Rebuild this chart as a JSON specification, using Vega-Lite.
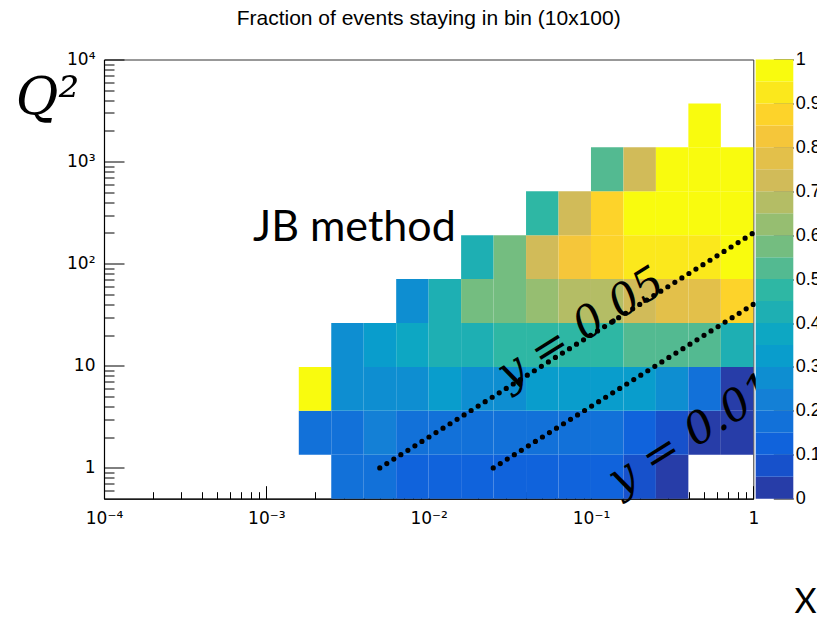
{
  "$schema": "https://vega.github.io/schema/vega-lite/v6.json",
  "autosize": {"type": "none"},
  "padding": {"left": 104, "top": 59.5, "right": 63.7, "bottom": 120.3},
  "width": 649.3,
  "height": 439.2,
  "title": {"text": "Fraction of events staying in bin (10x100)", "offset": 22},
  "view": {"stroke": "#333", "strokeWidth": 1},
  "config": {
    "font": "Liberation Sans",
    "axis": {"grid": false, "zindex": 1, "labelColor": "#000", "tickColor": "#000", "domainColor": "#000", "labelFont": "Liberation Sans", "labelFontSize": 18, "labelFlush": false, "labelOverlap": false, "labelBound": false},
    "title": {"font": "Liberation Sans", "fontSize": 21, "fontWeight": "normal", "color": "#000", "anchor": "middle"}
  },
  "datasets": {
    "xbins": [
      {"c": 0, "xlo": 0.0015849, "xhi": 0.0025119},
      {"c": 1, "xlo": 0.0025119, "xhi": 0.0039811},
      {"c": 2, "xlo": 0.0039811, "xhi": 0.0063096},
      {"c": 3, "xlo": 0.0063096, "xhi": 0.01},
      {"c": 4, "xlo": 0.01, "xhi": 0.015849},
      {"c": 5, "xlo": 0.015849, "xhi": 0.025119},
      {"c": 6, "xlo": 0.025119, "xhi": 0.039811},
      {"c": 7, "xlo": 0.039811, "xhi": 0.063096},
      {"c": 8, "xlo": 0.063096, "xhi": 0.1},
      {"c": 9, "xlo": 0.1, "xhi": 0.15849},
      {"c": 10, "xlo": 0.15849, "xhi": 0.25119},
      {"c": 11, "xlo": 0.25119, "xhi": 0.39811},
      {"c": 12, "xlo": 0.39811, "xhi": 0.63096},
      {"c": 13, "xlo": 0.63096, "xhi": 1}
    ],
    "qbins": [
      {"r": 0, "qlo": 0.5, "qhi": 1.3461},
      {"r": 1, "qlo": 1.3461, "qhi": 3.624},
      {"r": 2, "qlo": 3.624, "qhi": 9.757},
      {"r": 3, "qlo": 9.757, "qhi": 26.27},
      {"r": 4, "qlo": 26.27, "qhi": 70.71},
      {"r": 5, "qlo": 70.71, "qhi": 190.4},
      {"r": 6, "qlo": 190.4, "qhi": 512.6},
      {"r": 7, "qlo": 512.6, "qhi": 1380},
      {"r": 8, "qlo": 1380, "qhi": 3715},
      {"r": 9, "qlo": 3715, "qhi": 10000}
    ],
    "cells": [
      {"r": 0, "c": 1, "f": 0.175}, {"r": 0, "c": 2, "f": 0.175}, {"r": 0, "c": 3, "f": 0.125}, {"r": 0, "c": 4, "f": 0.125},
      {"r": 0, "c": 5, "f": 0.125}, {"r": 0, "c": 6, "f": 0.125}, {"r": 0, "c": 7, "f": 0.125}, {"r": 0, "c": 8, "f": 0.125},
      {"r": 0, "c": 9, "f": 0.125}, {"r": 0, "c": 10, "f": 0.075}, {"r": 0, "c": 11, "f": 0.025},
      {"r": 1, "c": 0, "f": 0.175}, {"r": 1, "c": 1, "f": 0.175}, {"r": 1, "c": 2, "f": 0.225}, {"r": 1, "c": 3, "f": 0.175},
      {"r": 1, "c": 4, "f": 0.175}, {"r": 1, "c": 5, "f": 0.175}, {"r": 1, "c": 6, "f": 0.175}, {"r": 1, "c": 7, "f": 0.175},
      {"r": 1, "c": 8, "f": 0.175}, {"r": 1, "c": 9, "f": 0.175}, {"r": 1, "c": 10, "f": 0.125}, {"r": 1, "c": 11, "f": 0.075},
      {"r": 1, "c": 12, "f": 0.025}, {"r": 1, "c": 13, "f": 0.025},
      {"r": 2, "c": 0, "f": 0.975}, {"r": 2, "c": 1, "f": 0.275}, {"r": 2, "c": 2, "f": 0.275}, {"r": 2, "c": 3, "f": 0.275},
      {"r": 2, "c": 4, "f": 0.325}, {"r": 2, "c": 5, "f": 0.275}, {"r": 2, "c": 6, "f": 0.275}, {"r": 2, "c": 7, "f": 0.325},
      {"r": 2, "c": 8, "f": 0.325}, {"r": 2, "c": 9, "f": 0.325}, {"r": 2, "c": 10, "f": 0.325}, {"r": 2, "c": 11, "f": 0.275},
      {"r": 2, "c": 12, "f": 0.175}, {"r": 2, "c": 13, "f": 0.025},
      {"r": 3, "c": 1, "f": 0.275}, {"r": 3, "c": 2, "f": 0.325}, {"r": 3, "c": 3, "f": 0.375}, {"r": 3, "c": 4, "f": 0.425},
      {"r": 3, "c": 5, "f": 0.425}, {"r": 3, "c": 6, "f": 0.475}, {"r": 3, "c": 7, "f": 0.475}, {"r": 3, "c": 8, "f": 0.475},
      {"r": 3, "c": 9, "f": 0.475}, {"r": 3, "c": 10, "f": 0.525}, {"r": 3, "c": 11, "f": 0.525}, {"r": 3, "c": 12, "f": 0.525},
      {"r": 3, "c": 13, "f": 0.425},
      {"r": 4, "c": 3, "f": 0.275}, {"r": 4, "c": 4, "f": 0.425}, {"r": 4, "c": 5, "f": 0.575}, {"r": 4, "c": 6, "f": 0.575},
      {"r": 4, "c": 7, "f": 0.625}, {"r": 4, "c": 8, "f": 0.675}, {"r": 4, "c": 9, "f": 0.675}, {"r": 4, "c": 10, "f": 0.725},
      {"r": 4, "c": 11, "f": 0.775}, {"r": 4, "c": 12, "f": 0.775}, {"r": 4, "c": 13, "f": 0.875},
      {"r": 5, "c": 5, "f": 0.425}, {"r": 5, "c": 6, "f": 0.575}, {"r": 5, "c": 7, "f": 0.725}, {"r": 5, "c": 8, "f": 0.825},
      {"r": 5, "c": 9, "f": 0.875}, {"r": 5, "c": 10, "f": 0.925}, {"r": 5, "c": 11, "f": 0.925}, {"r": 5, "c": 12, "f": 0.925},
      {"r": 5, "c": 13, "f": 0.975},
      {"r": 6, "c": 7, "f": 0.475}, {"r": 6, "c": 8, "f": 0.725}, {"r": 6, "c": 9, "f": 0.875}, {"r": 6, "c": 10, "f": 0.975},
      {"r": 6, "c": 11, "f": 0.975}, {"r": 6, "c": 12, "f": 0.975}, {"r": 6, "c": 13, "f": 0.975},
      {"r": 7, "c": 9, "f": 0.525}, {"r": 7, "c": 10, "f": 0.725}, {"r": 7, "c": 11, "f": 0.975}, {"r": 7, "c": 12, "f": 0.975},
      {"r": 7, "c": 13, "f": 0.975},
      {"r": 8, "c": 12, "f": 0.975}
    ],
    "lines": [
      {"series": "y=0.05", "x": 0.005, "q": 1},
      {"series": "y=0.05", "x": 1, "q": 200},
      {"series": "y=0.01", "x": 0.025, "q": 1},
      {"series": "y=0.01", "x": 1, "q": 40}
    ],
    "bandedges": [
      {"v": 0}, {"v": 0.1}, {"v": 0.2}, {"v": 0.3}, {"v": 0.4}, {"v": 0.5},
      {"v": 0.6}, {"v": 0.7}, {"v": 0.8}, {"v": 0.9}, {"v": 1}
    ]
  },
  "resolve": {"scale": {"y": "independent"}, "axis": {"x": "independent", "y": "independent"}},
  "layer": [
    {
      "data": {"name": "cells"},
      "transform": [
        {"lookup": "c", "from": {"data": {"name": "xbins"}, "key": "c", "fields": ["xlo", "xhi"]}},
        {"lookup": "r", "from": {"data": {"name": "qbins"}, "key": "r", "fields": ["qlo", "qhi"]}}
      ],
      "mark": {"type": "rect"},
      "encoding": {
        "x": {"field": "xlo", "type": "quantitative",
          "scale": {"type": "log", "domain": [0.0001, 1], "nice": false},
          "axis": {"orient": "bottom", "values": [0.0001, 0.001, 0.01, 0.1, 1],
            "labelExpr": "datum.value < 0.0005 ? '10⁻⁴' : datum.value < 0.005 ? '10⁻³' : datum.value < 0.05 ? '10⁻²' : datum.value < 0.5 ? '10⁻¹' : '1'",
            "labelFontSize": 17, "labelFont": "DejaVu Sans",
            "tickSize": -13, "labelPadding": 25, "domainWidth": 1.2,
            "title": "X", "titleX": 701, "titleY": 104, "titleFont": "Lato", "titleFontSize": 34, "titleFontWeight": "normal",
            "titleColor": "#000", "titleAlign": "center", "titleBaseline": "middle", "titleAngle": 0}},
        "x2": {"field": "xhi"},
        "y": {"field": "qlo", "type": "quantitative",
          "scale": {"type": "log", "domain": [0.5, 10000], "nice": false},
          "axis": {"orient": "left", "values": [1, 10, 100, 1000, 10000],
            "labelExpr": "datum.value < 5 ? '1' : datum.value < 50 ? '10' : datum.value < 500 ? '10²' : datum.value < 5000 ? '10³' : '10⁴'",
            "labelFontSize": 17, "labelFont": "DejaVu Sans",
            "tickSize": -20, "labelPadding": 29, "domainWidth": 1.2,
            "title": "Q²", "titleX": -57, "titleY": 38, "titleFont": "DejaVu Serif", "titleFontStyle": "italic", "titleFontSize": 52,
            "titleFontWeight": "normal", "titleColor": "#000", "titleAlign": "center", "titleBaseline": "middle", "titleAngle": 0}},
        "y2": {"field": "qhi"},
        "color": {"field": "f", "type": "quantitative",
          "scale": {"type": "threshold",
            "domain": [0.05, 0.1, 0.15, 0.2, 0.25, 0.3, 0.35, 0.4, 0.45, 0.5, 0.55, 0.6, 0.65, 0.7, 0.75, 0.8, 0.85, 0.9, 0.95],
            "range": ["#273da8", "#1751cb", "#1063dc", "#1271d9", "#1480d6", "#0e8ed1", "#099dcc", "#0da7c3", "#1eafb3", "#2eb7a4", "#53ba91", "#74bd80", "#96be71", "#b4bd65", "#d1bb59", "#e3c04a", "#f5c63a", "#fdd32a", "#fbe81c", "#f9fb0e"]},
          "legend": {"type": "gradient", "orient": "none", "legendX": 651.7, "legendY": 0, "direction": "vertical",
            "gradientLength": 439.2, "gradientThickness": 37.6, "gradientStrokeWidth": 0, "padding": 0,
            "values": [0, 0.05, 0.1, 0.15, 0.2, 0.25, 0.3, 0.35, 0.4, 0.45, 0.5, 0.55, 0.6, 0.65, 0.7, 0.75, 0.8, 0.85, 0.9, 0.95, 1],
            "labelExpr": "''", "title": null}}
      }
    },
    {
      "data": {"name": "lines"},
      "mark": {"type": "line", "strokeDash": [0, 8.3], "strokeWidth": 5.2, "strokeCap": "round", "color": "#000"},
      "encoding": {
        "x": {"field": "x", "type": "quantitative",
          "scale": {"type": "log", "domain": [0.0001, 1], "nice": false},
          "axis": {"orient": "bottom", "labels": false, "domain": false, "tickSize": -7, "title": null,
            "values": [0.0002, 0.0003, 0.0004, 0.0005, 0.0006, 0.0007, 0.0008, 0.0009, 0.002, 0.003, 0.004, 0.005, 0.006, 0.007, 0.008, 0.009, 0.02, 0.03, 0.04, 0.05, 0.06, 0.07, 0.08, 0.09, 0.2, 0.3, 0.4, 0.5, 0.6, 0.7, 0.8, 0.9]}},
        "y": {"field": "q", "type": "quantitative",
          "scale": {"type": "log", "domain": [0.5, 10000], "nice": false},
          "axis": {"orient": "left", "labels": false, "domain": false, "tickSize": -10, "title": null,
            "values": [0.6, 0.7, 0.8, 0.9, 2, 3, 4, 5, 6, 7, 8, 9, 20, 30, 40, 50, 60, 70, 80, 90, 200, 300, 400, 500, 600, 700, 800, 900, 2000, 3000, 4000, 5000, 6000, 7000, 8000, 9000]}},
        "detail": {"field": "series"}
      }
    },
    {
      "data": {"values": [{"label": "JB method", "x": 0.000828, "q": 166.5}]},
      "mark": {"type": "text", "font": "Lato", "fontSize": 43, "align": "left", "baseline": "alphabetic", "color": "#000"},
      "encoding": {
        "x": {"field": "x", "type": "quantitative", "scale": {"type": "log", "domain": [0.0001, 1], "nice": false}, "axis": null},
        "y": {"field": "q", "type": "quantitative", "scale": {"type": "log", "domain": [0.5, 10000], "nice": false}, "axis": null},
        "text": {"field": "label"}
      }
    },
    {
      "data": {"values": [
        {"label": "y = 0.05", "x": 0.0869, "q": 23.2},
        {"label": "y = 0.01", "x": 0.42, "q": 2.12}
      ]},
      "mark": {"type": "text", "font": "DejaVu Serif", "fontStyle": "italic", "fontSize": 44, "angle": 328, "align": "center", "baseline": "middle", "color": "#000"},
      "encoding": {
        "x": {"field": "x", "type": "quantitative", "scale": {"type": "log", "domain": [0.0001, 1], "nice": false}, "axis": null},
        "y": {"field": "q", "type": "quantitative", "scale": {"type": "log", "domain": [0.5, 10000], "nice": false}, "axis": null},
        "text": {"field": "label"}
      }
    },
    {
      "data": {"name": "bandedges"},
      "mark": {"type": "rule", "opacity": 0},
      "encoding": {
        "y": {"field": "v", "type": "quantitative", "scale": {"domain": [0, 1], "nice": false, "zero": false},
          "axis": {"orient": "right", "offset": 40, "values": [0, 0.1, 0.2, 0.3, 0.4, 0.5, 0.6, 0.7, 0.8, 0.9, 1], "format": ".1~f",
            "tickSize": -20, "labelPadding": 22, "labelFontSize": 18, "domain": false, "title": null}}
      }
    }
  ]
}
